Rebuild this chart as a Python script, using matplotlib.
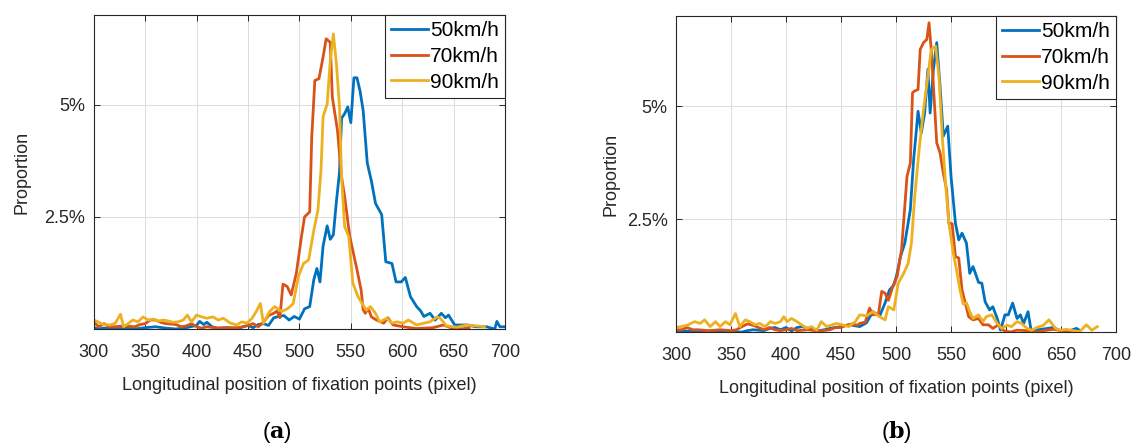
import matplotlib
matplotlib.use("Agg")
import matplotlib.pyplot as plt

plt.rcParams['font.family'] = ['Liberation Sans', 'DejaVu Sans']
plt.rcParams['mathtext.fontset'] = 'dejavuserif'

labels = ["50km/h", "70km/h", "90km/h"]
colors = ["#0072BD", "#D95319", "#EDB120"]

# ---------------- panel (a) ----------------
a50_x = [300,305,310,320,330,340,350,360,370,380,390,400,403,407,410,415,420,430,440,445,450,455,460,465,470,475,480,485,490,495,500,505,510,514,517,520,523,527,530,533,536,539,541,544,547,550,553,556,559,562,566,570,574,580,584,590,594,599,603,608,614,618,621,627,632,638,642,645,651,663,672,682,690,692,695,700]
a50_y = [0.03,0.0,0.02,0.0,0.02,0.0,0.03,0.05,0.02,0.0,0.03,0.08,0.17,0.1,0.15,0.05,0.02,0.03,0.0,0.05,0.08,0.03,0.1,0.12,0.08,0.25,0.28,0.3,0.2,0.28,0.22,0.45,0.5,1.1,1.35,1.05,1.85,2.3,2.0,2.1,2.85,3.5,4.7,4.8,4.95,4.6,5.6,5.6,5.3,4.87,3.7,3.3,2.8,2.55,1.5,1.46,1.05,1.05,1.15,0.72,0.5,0.4,0.28,0.35,0.2,0.35,0.25,0.31,0.09,0.09,0.05,0.05,0.0,0.17,0.05,0.05]

a70_x = [300,305,310,315,320,330,340,345,350,355,360,365,370,380,385,390,395,400,405,410,420,430,440,445,450,455,460,465,470,475,478,481,484,488,492,497,502,505,510,512,515,519,523,526,530,532,537,541,544,549,556,560,562,564,567,570,575,582,586,591,601,614,630,640,647,655,665]
a70_y = [0.15,0.05,0.12,0.05,0.05,0.07,0.05,0.1,0.12,0.2,0.2,0.15,0.12,0.1,0.05,0.07,0.12,0.05,0.02,0.05,0.02,0.03,0.03,0.05,0.08,0.12,0.05,0.15,0.3,0.35,0.4,0.25,1.0,0.95,0.76,1.24,2.06,2.5,2.61,4.28,5.54,5.58,6.06,6.47,6.39,5.17,4.43,3.39,2.95,2.06,1.32,0.87,0.43,0.35,0.46,0.27,0.2,0.13,0.25,0.09,0.05,0.01,0.03,0.09,0.03,0.0,0.02]

a90_x = [300,304,309,316,321,326,329,334,338,343,348,353,358,363,368,372,377,382,387,391,395,400,405,410,416,421,426,433,439,444,449,454,458,462,465,471,476,483,489,494,499,504,509,514,518,521,523,527,530,533,536,539,541,544,548,552,557,562,565,569,574,578,585,590,595,601,606,614,621,627,634,637,643,653,663,672,680]
a90_y = [0.2,0.16,0.1,0.09,0.13,0.33,0.05,0.13,0.2,0.16,0.27,0.2,0.22,0.18,0.2,0.18,0.15,0.16,0.2,0.31,0.16,0.31,0.27,0.24,0.27,0.2,0.24,0.13,0.09,0.16,0.13,0.24,0.39,0.57,0.13,0.39,0.5,0.39,0.46,0.57,1.17,1.46,1.54,2.2,2.65,3.54,4.73,5.02,5.98,6.58,5.91,4.95,3.39,2.28,2.06,1.02,0.72,0.53,0.42,0.5,0.35,0.16,0.24,0.13,0.16,0.13,0.2,0.09,0.13,0.16,0.27,0.24,0.07,0.04,0.09,0.07,0.05]

# ---------------- panel (b) ----------------
b50_x = [300,310,320,330,340,350,360,365,370,380,385,390,395,400,405,410,415,420,425,430,435,440,445,450,455,460,467,473,479,485,490,494,498,501,504,508,513,516,518,520,523,526,529,531,534,537,540,543,547,550,554,557,560,564,567,570,575,578,581,585,588,592,595,599,602,606,610,613,616,620,623,629,638,643,649,658,664,666]
b50_y = [0.0,0.02,0.0,0.02,0.0,0.0,0.0,0.03,0.05,0.03,0.08,0.1,0.05,0.1,0.02,0.1,0.12,0.08,0.05,0.03,0.05,0.08,0.1,0.12,0.15,0.15,0.12,0.2,0.45,0.35,0.64,0.93,1.04,1.3,1.67,1.97,2.71,3.82,4.34,4.89,4.41,4.85,5.82,4.85,5.82,6.41,5.45,4.34,4.56,3.45,2.41,2.04,2.19,1.97,1.3,1.45,1.1,1.08,0.67,0.49,0.56,0.3,0.04,0.38,0.38,0.64,0.3,0.38,0.19,0.45,0.0,0.05,0.08,0.1,0.03,0.03,0.08,0.05]

b70_x = [300,305,310,315,320,330,340,350,355,360,365,370,375,380,385,390,395,400,405,410,420,430,440,445,450,455,460,465,467,472,476,479,484,487,490,493,497,501,505,510,513,515,517,520,522,525,528,530,532,534,537,540,543,546,548,551,554,557,560,563,566,570,575,579,584,588,593,598,604,610,619,628,637,643,652,661,665]
b70_y = [0.05,0.05,0.1,0.05,0.05,0.03,0.05,0.03,0.05,0.12,0.18,0.15,0.1,0.05,0.1,0.05,0.03,0.05,0.08,0.03,0.05,0.02,0.05,0.1,0.1,0.15,0.18,0.15,0.19,0.22,0.53,0.38,0.4,0.9,0.86,0.7,1.0,1.23,1.82,3.45,3.74,5.3,5.34,5.37,6.26,6.41,6.48,6.85,6.26,5.45,4.19,3.97,3.52,3.15,2.41,2.4,1.67,1.64,0.93,0.64,0.34,0.27,0.3,0.16,0.16,0.08,0.16,0.03,0.0,0.04,0.03,0.0,0.04,0.06,0.03,0.0,0.0]

b90_x = [300,305,311,317,322,326,331,336,340,345,349,354,358,363,367,372,376,381,386,390,395,398,401,405,410,414,419,423,428,432,437,442,446,451,457,463,467,473,479,485,490,493,498,502,507,511,514,517,521,525,529,532,536,539,542,545,548,552,555,558,561,564,567,570,575,579,582,587,592,596,601,605,610,614,619,623,628,634,639,645,649,655,661,667,673,678,683]
b90_y = [0.1,0.12,0.16,0.23,0.19,0.27,0.12,0.23,0.12,0.23,0.16,0.41,0.12,0.27,0.23,0.16,0.19,0.12,0.23,0.19,0.23,0.34,0.23,0.3,0.23,0.16,0.08,0.12,0.04,0.23,0.12,0.16,0.19,0.16,0.12,0.23,0.38,0.36,0.45,0.34,0.27,0.56,0.49,1.08,1.3,1.52,1.97,3.0,4.04,4.93,5.67,6.26,6.33,5.67,4.34,3.3,2.41,1.75,1.38,0.95,0.62,0.65,0.45,0.3,0.38,0.23,0.34,0.38,0.19,0.08,0.15,0.12,0.23,0.19,0.08,0.04,0.1,0.15,0.27,0.08,0.04,0.06,0.03,0.01,0.16,0.04,0.12]

x_ticks = [300, 350, 400, 450, 500, 550, 600, 650, 700]
y_ticks = [2.5, 5.0]
y_tick_labels = ["2.5%", "5%"]
xlabel = "Longitudinal position of fixation points (pixel)"
ylabel = "Proportion"
captions = ["a", "b"]

txt = "#262626"
fig = plt.figure(figsize=(11.35, 4.48), dpi=100)
ax_a = fig.add_axes([0.0826, 0.2656, 0.3624, 0.7009])
ax_b = fig.add_axes([0.5956, 0.2589, 0.3877, 0.7054])

panels = [
    (ax_a, [(a50_x, a50_y), (a70_x, a70_y), (a90_x, a90_y)], 10),
    (ax_b, [(b50_x, b50_y), (b70_x, b70_y), (b90_x, b90_y)], 5.5),
]

for ax, series, ylpad in panels:
    for (xs, ys), lab, c in zip(series, labels, colors):
        ax.plot(xs, [v / 100 for v in ys], color=c, lw=2.0, label=lab)
    ax.set_xlim(300, 700)
    ax.set_ylim(0, 0.07)
    ax.set_xticks(x_ticks)
    ax.set_yticks([v / 100 for v in y_ticks])
    ax.set_yticklabels(y_tick_labels)
    ax.grid(True, color="#dcdcdc", lw=0.7)
    ax.set_axisbelow(True)
    ax.tick_params(direction="in", length=4, width=0.7, colors=txt,
                   labelsize=13, top=True, right=True)
    ax.tick_params(axis="x", pad=11)
    ax.tick_params(axis="y", pad=6)
    for s in ax.spines.values():
        s.set_color(txt)
        s.set_linewidth(0.8)
    ax.set_xlabel(xlabel, fontsize=13, color=txt, labelpad=11)
    ax.set_ylabel(ylabel, fontsize=13, color=txt, labelpad=ylpad)
    leg = ax.legend(loc="upper right", fontsize=15, frameon=True, fancybox=False,
                    edgecolor="#262626", framealpha=1, borderaxespad=0,
                    handlelength=1.75, handletextpad=0.1, labelspacing=0.32,
                    borderpad=0.3)
    leg.get_frame().set_linewidth(0.8)
    for t in leg.get_texts():
        t.set_color("black")

fig.text(277 / 1135, 1 - 432 / 448, r"($\mathbf{%s}$)" % captions[0], ha="center",
         va="center", fontsize=16)
fig.text(896 / 1135, 1 - 432 / 448, r"($\mathbf{%s}$)" % captions[1], ha="center",
         va="center", fontsize=16)

fig.savefig("out.png", dpi=100)
